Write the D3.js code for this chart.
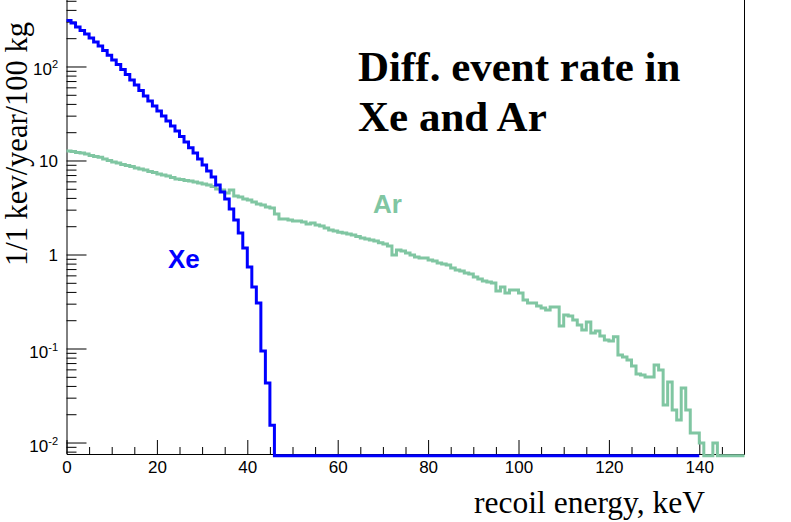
<!DOCTYPE html>
<html><head><meta charset="utf-8">
<script src="https://cdn.jsdelivr.net/npm/d3@7"></script>
<style>body{margin:0;background:#fff;} svg{display:block;}</style>
</head><body>
<svg id="c" width="791" height="522"></svg>
<script>
// ---- data ----
const binWidthKeV = 1;
const xeRangeKeV = [0, 140];   // Xe histogram range; bins after the listed ones are empty
const xeRate = [308,290,263,242,222,201,182,165,148,132,
  117,105,92.9,82.2,71.8,63.6,55.6,48.5,43.0,38.0,
  33.6,29.7,26.3,23.3,20.6,18.0,15.7,13.7,12.0,10.4,
  8.95,7.73,6.67,5.48,4.62,3.89,3.05,2.33,1.69,1.17,
  0.736,0.451,0.305,0.094,0.043,0.0153];
const arRate = [12.6,12.5,12.2,12.0,11.7,11.3,11.0,10.8,10.4,10.0,
  9.64,9.41,9.07,8.85,8.64,8.32,8.12,7.92,7.64,7.45,
  7.18,7.01,6.84,6.59,6.36,6.28,6.13,6.05,5.91,5.76,
  5.62,5.49,5.29,4.98,4.86,4.51,4.86,4.19,4.09,3.89,
  3.80,3.62,3.44,3.36,3.20,3.12,2.70,2.39,2.39,2.33,
  2.27,2.27,2.22,2.11,2.16,2.06,2.01,1.91,1.82,1.78,
  1.73,1.69,1.65,1.61,1.55,1.50,1.46,1.43,1.39,1.33,
  1.29,1.23,0.99,1.12,1.09,1.04,0.99,0.94,0.92,0.92,
  0.874,0.853,0.812,0.792,0.773,0.718,0.684,0.668,0.636,0.620,
  0.576,0.549,0.523,0.510,0.498,0.409,0.451,0.389,0.419,0.419,
  0.389,0.328,0.305,0.305,0.283,0.270,0.257,0.276,0.276,0.174,
  0.227,0.222,0.201,0.178,0.157,0.191,0.146,0.154,0.136,0.123,
  0.120,0.133,0.0853,0.0812,0.0754,0.0651,0.0536,0.0523,0.0498,0.0498,
  0.0668,0.0590,0.0251,0.0440,0.0222,0.0174,0.0380,0.0222,0.0126,0.0126,
  0.0099,0,0,0.0099,0,0,0,0,0,0];
const xDomain = [0, 150];
const yDomain = [0.00755, 651];
const xMajorTicks = [0,20,40,60,80,100,120,140];
const xMinorTicks = [5,10,15,25,30,35,45,50,55,65,70,75,85,90,95,105,110,115,125,130,135,145];
const yMajorTicks = [0.01,0.1,1,10,100];
const yTickBase = ["10","10","1","10","10"];
const yTickExp  = ["-2","-1","","","2"];
const yMinorTicks = [0.008,0.009,0.02,0.03,0.04,0.05,0.06,0.07,0.08,0.09,
  0.2,0.3,0.4,0.5,0.6,0.7,0.8,0.9,2,3,4,5,6,7,8,9,
  20,30,40,50,60,70,80,90,200,300,400,500,600];
const titleLines = ["Diff. event rate in", "Xe and Ar"];
const xTitle = "recoil energy, keV";
const yTitle = "1/1 kev/year/100 kg";
const seriesNames = ["Xe", "Ar"];
const seriesColors = ["#0000ff", "#80c6a2"];

// ---- layout ----
const svg = d3.select("#c");
const L = 66.5, R = 744.5, B = 454, T = -10;
const x = d3.scaleLinear().domain(xDomain).range([L, R]);
const y = d3.scaleLog().domain(yDomain).range([B, T]);
const zeroFloor = yDomain[0] * 0.96;

function stepPoints(vals) {
  const pts = [];
  vals.forEach((v, i) => {
    const vv = v > 0 ? v : zeroFloor;
    pts.push([x(i * binWidthKeV), y(vv)], [x((i + 1) * binWidthKeV), y(vv)]);
  });
  return pts;
}
const xeBins = xeRate.concat(new Array((xeRangeKeV[1] - xeRangeKeV[0]) / binWidthKeV - xeRate.length).fill(0));
const line = d3.line();

// frame right edge
svg.append("line").attr("x1", R).attr("x2", R).attr("y1", T).attr("y2", B)
  .attr("stroke", "#000").attr("stroke-width", 1);

// axes
const fontTick = "'Liberation Sans', Arial, Helvetica, sans-serif";
const gx = svg.append("g").attr("transform", `translate(0,${B})`)
  .call(d3.axisBottom(x).tickValues(xMajorTicks).tickSizeInner(-14).tickSizeOuter(0).tickPadding(7));
const gxm = svg.append("g").attr("transform", `translate(0,${B})`)
  .call(d3.axisBottom(x).tickValues(xMinorTicks).tickSizeInner(-7).tickSizeOuter(0).tickFormat(""));
gxm.select(".domain").remove();
const gy = svg.append("g").attr("transform", `translate(${L},0)`)
  .call(d3.axisLeft(y).tickValues(yMajorTicks).tickSizeInner(-20).tickSizeOuter(0).tickPadding(8.5).tickFormat(""));
const gym = svg.append("g").attr("transform", `translate(${L},0)`)
  .call(d3.axisLeft(y).tickValues(yMinorTicks).tickSizeInner(-10).tickSizeOuter(0).tickFormat(""));
gym.select(".domain").remove();

[gx, gxm, gy, gym].forEach(g => {
  g.selectAll("line").attr("stroke", "#000").attr("stroke-width", 1);
  g.selectAll(".domain").attr("stroke", "#000").attr("stroke-width", 1);
});
gx.selectAll("text").attr("font-family", fontTick).attr("font-size", 17).attr("fill", "#000");

gy.selectAll(".tick").each(function(d, i) {
  const t = d3.select(this).select("text")
    .attr("font-family", fontTick).attr("font-size", 17).attr("fill", "#000")
    .attr("text-anchor", "end")
    .attr("dy", yTickExp[i] ? "0.5em" : "0.38em");
  t.append("tspan").text(yTickBase[i]);
  if (yTickExp[i]) t.append("tspan").attr("font-size", 11).attr("dy", -7).text(yTickExp[i]);
});

// histograms (Ar below Xe)
svg.append("path").attr("d", line(stepPoints(arRate)))
  .attr("fill", "none").attr("stroke", seriesColors[1]).attr("stroke-width", 3);
svg.append("path").attr("d", line(stepPoints(xeBins)))
  .attr("fill", "none").attr("stroke", seriesColors[0]).attr("stroke-width", 3);

// labels
const serif = "'Liberation Serif', 'Times New Roman', Times, serif";
svg.append("text").attr("x", 168).attr("y", 268).text(seriesNames[0])
  .attr("font-family", fontTick).attr("font-weight", "bold").attr("font-size", 26).attr("fill", seriesColors[0]);
svg.append("text").attr("x", 373).attr("y", 213).text(seriesNames[1])
  .attr("font-family", fontTick).attr("font-weight", "bold").attr("font-size", 26).attr("fill", seriesColors[1]);

titleLines.forEach((s, i) => {
  svg.append("text").attr("x", 358).attr("y", 81 + i * 50).text(s)
    .attr("font-family", serif).attr("font-weight", "bold").attr("font-size", 43).attr("fill", "#000");
});

svg.append("text").attr("x", 705).attr("y", 513).attr("text-anchor", "end").text(xTitle)
  .attr("font-family", serif).attr("font-size", 31.5).attr("fill", "#000");
svg.append("text").attr("transform", "translate(27,266) rotate(-90)").text(yTitle)
  .attr("font-family", serif).attr("font-size", 30.5).attr("fill", "#000");
</script>
</body></html>
